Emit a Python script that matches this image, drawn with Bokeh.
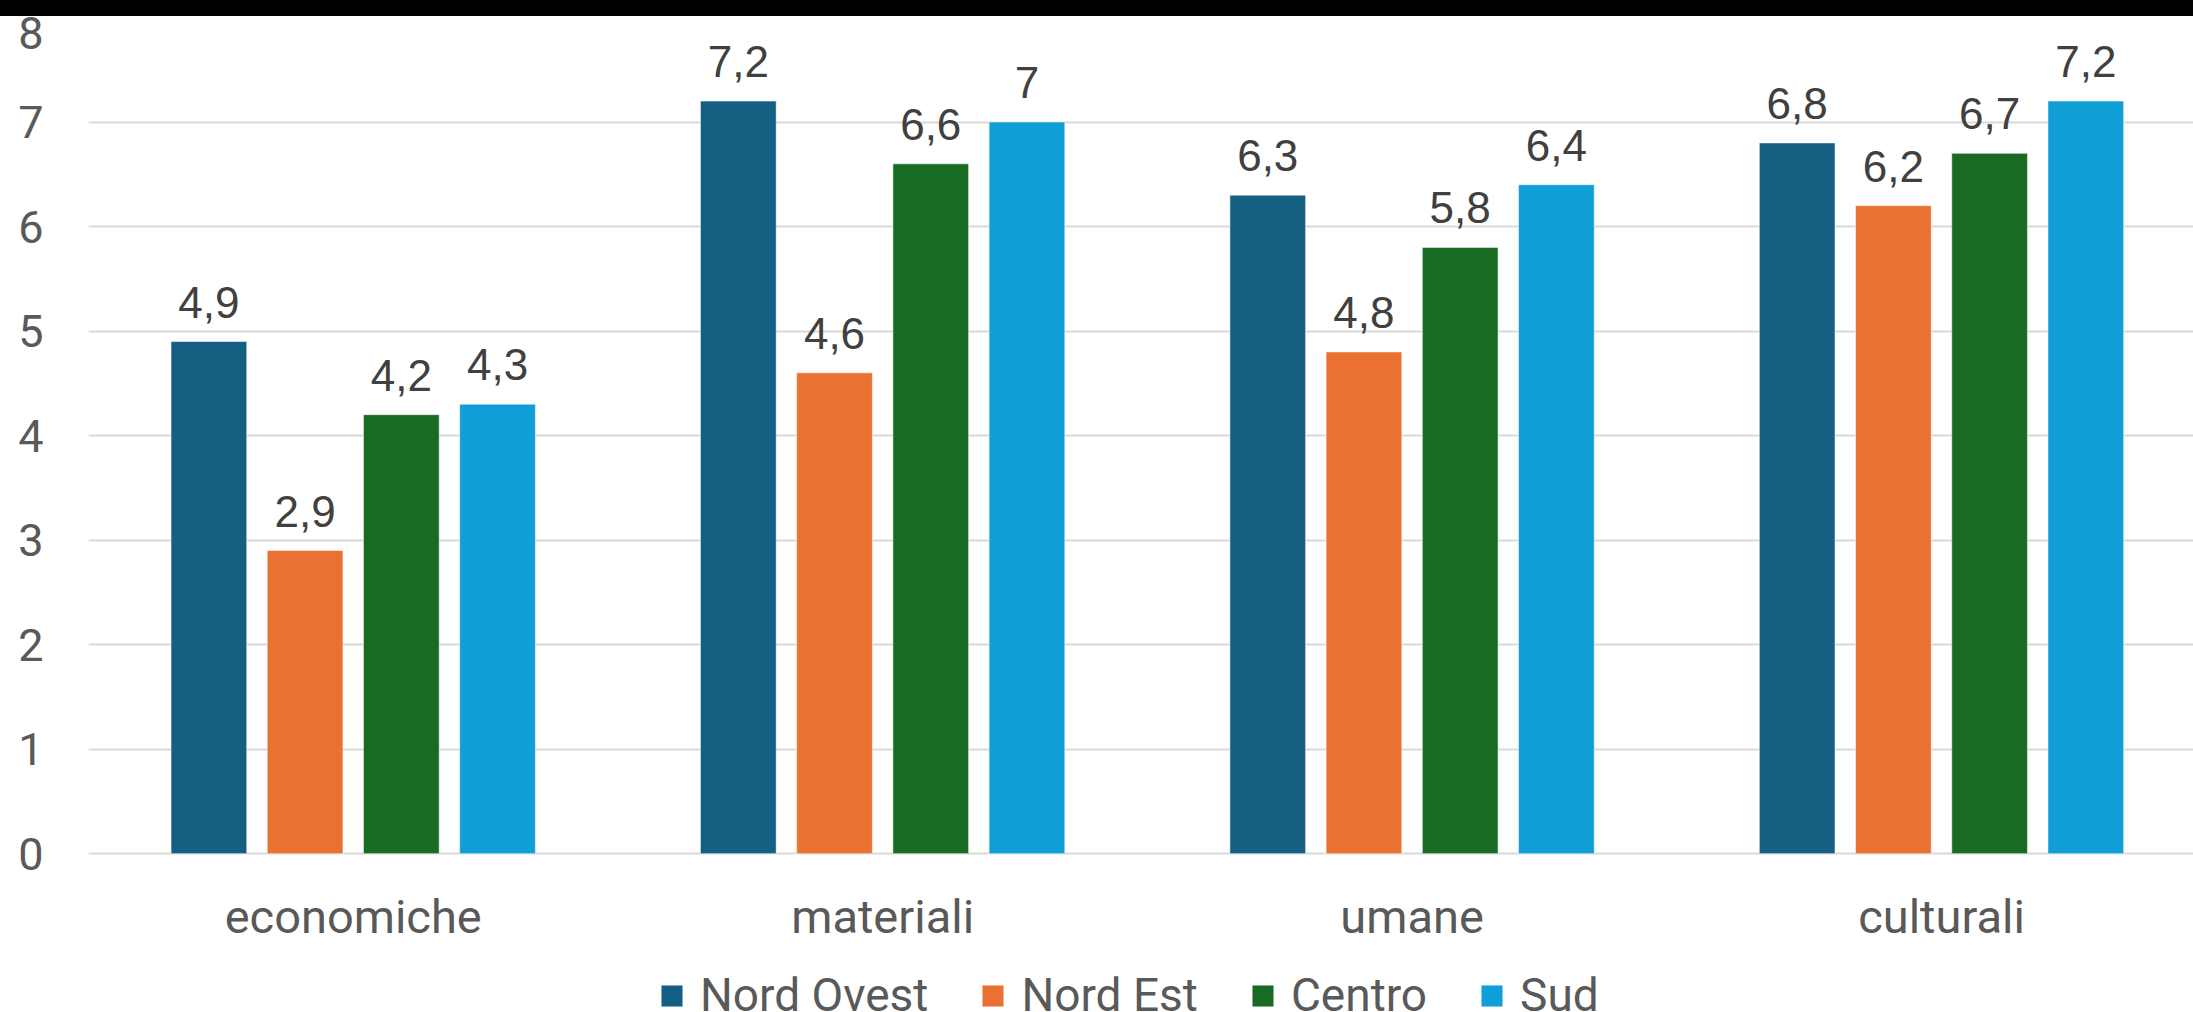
from bokeh.plotting import figure
from bokeh.models import (ColumnDataSource, FixedTicker, Range1d, Legend, LegendItem, Div, LabelSet)
from bokeh.layouts import column
from bokeh.transform import dodge
from bokeh.core.properties import value
from bokeh.embed import file_html
from bokeh.resources import INLINE

categories = ["economiche", "materiali", "umane", "culturali"]
series = ["Nord Ovest", "Nord Est", "Centro", "Sud"]
nord_ovest = [4.9, 7.2, 6.3, 6.8]
nord_est = [2.9, 4.6, 4.8, 6.2]
centro = [4.2, 6.6, 5.8, 6.7]
sud = [4.3, 7.0, 6.4, 7.2]
y_ticks = [0, 1, 2, 3, 4, 5, 6, 7, 8]

colors = ["#156082", "#E97132", "#196B24", "#0F9ED5"]
offsets = [-0.2726, -0.0909, 0.0909, 0.2726]
bar_w = 0.143

W = 2193
BAND = 16
H_FIG = 1012 - BAND

p = figure(width=W, height=H_FIG, x_range=Range1d(0, 3.976), y_range=Range1d(-1.52, 8),
           output_backend="svg", toolbar_location=None,
           min_border_left=88, min_border_right=0, min_border_top=1, min_border_bottom=0)
p.title.visible = False
p.outline_line_color = None
p.background_fill_color = "white"
p.border_fill_color = "white"

xs = [i + 0.5 for i in range(len(categories))]

def fmt(v):
    s = ("%.1f" % v).replace(".", ",")
    return s[:-2] if s.endswith(",0") else s

renderers = []
for name, vals, col, off in zip(series, [nord_ovest, nord_est, centro, sud], colors, offsets):
    src = ColumnDataSource(dict(x=xs, v=vals, lbl=[fmt(v) for v in vals]))
    r = p.vbar(x=dodge("x", off), top="v", width=bar_w, bottom=0, source=src,
               fill_color=col, line_color="white", line_alpha=0.5, line_width=1)
    renderers.append(r)
    labels = LabelSet(x=dodge("x", off), y="v", text="lbl", source=src, y_offset=24,
                      text_align="center", text_baseline="alphabetic",
                      text_font=value("Liberation Sans"), text_font_size=value("44px"),
                      text_color=value("#404040"))
    p.add_layout(labels)

# axes
p.xaxis.fixed_location = 0
p.xaxis.ticker = FixedTicker(ticks=xs)
p.xaxis.major_label_overrides = {x: c for x, c in zip(xs, categories)}
p.xaxis.major_tick_line_color = None
p.xaxis.minor_tick_line_color = None
p.xaxis.axis_line_color = None
p.xaxis.major_tick_out = 0
p.xaxis.major_tick_in = 0
p.xaxis.major_label_standoff = 35
p.xaxis.major_label_text_font = "Roboto"
p.xaxis.major_label_text_font_size = "47px"
p.xaxis.major_label_text_color = "#595959"

p.yaxis.ticker = FixedTicker(ticks=y_ticks)
p.yaxis.major_tick_line_color = None
p.yaxis.minor_tick_line_color = None
p.yaxis.axis_line_color = None
p.yaxis.major_tick_out = 0
p.yaxis.major_label_standoff = 45
p.yaxis.major_label_text_font = "Roboto"
p.yaxis.major_label_text_font_size = "45px"
p.yaxis.major_label_text_color = "#595959"

p.xgrid.visible = False
p.ygrid.ticker = FixedTicker(ticks=y_ticks)
p.ygrid.grid_line_color = "#D9D9D9"
p.ygrid.grid_line_width = 2

legend = Legend(items=[LegendItem(label=s, renderers=[r]) for s, r in zip(series, renderers)],
                orientation="horizontal", location=(570, -10),
                padding=0, margin=0, spacing=51, label_standoff=15,
                glyph_width=27, glyph_height=27,
                label_text_font="Roboto", label_text_font_size="46px",
                label_text_color="#595959",
                border_line_color=None, background_fill_alpha=0)
p.add_layout(legend, "center")

band = Div(width=W, height=BAND, margin=0, styles={"background-color": "black"})
layout = column(band, p, spacing=0)

open("out.html", "w").write(file_html(layout, INLINE))
